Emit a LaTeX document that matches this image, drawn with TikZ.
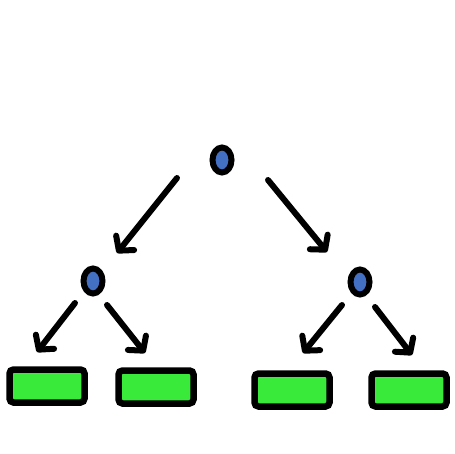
\documentclass[tikz,border=0pt]{standalone}
\usepackage{tikz}
\usetikzlibrary{arrows.meta,shapes.geometric}
\definecolor{dotblue}{RGB}{68,112,196}
\definecolor{leafgreen}{RGB}{58,234,58}
\tikzset{
  tdot/.style ={ellipse, draw=black, fill=dotblue, line width=0.06cm,
                minimum width=0.19cm, minimum height=0.25cm, inner sep=0pt},
  tleaf/.style={rectangle, rounded corners=0.04cm, draw=black, fill=leafgreen,
                line width=0.065cm, minimum width=0.75cm, minimum height=0.33cm,
                inner sep=0pt},
  tarc/.style ={-{Straight Barb[round, length=1.0mm, width=2.3mm]},
                line width=0.06cm, black, line cap=round},
}
\begin{document}
\begin{tikzpicture}
  \useasboundingbox (0,0) rectangle (4.54,-4.54);
  % inner nodes
  \node[tdot] (root) at (2.22,-1.60) {};
  \node[tdot] (m1)   at (0.93,-2.81) {};
  \node[tdot] (m2)   at (3.60,-2.82) {};
  % leaves
  \foreach \i/\x/\y in {1/0.47/-3.86, 2/1.56/-3.87, 3/2.92/-3.90, 4/4.09/-3.90} {
    \node[tleaf] (l\i) at (\x,\y) {};
  }
  % arrows: parent/start offset/child/end offset
  \foreach \p/\s/\c/\e in {root/{(-0.45,-0.18)}/m1/{(0.24,0.28)},
                           root/{(0.46,-0.20)}/m2/{(-0.33,0.30)},
                           m1/{(-0.18,-0.22)}/l1/{(-0.10,0.34)},
                           m1/{(0.14,-0.24)}/l2/{(-0.11,0.34)},
                           m2/{(-0.18,-0.23)}/l3/{(0.11,0.37)},
                           m2/{(0.15,-0.25)}/l4/{(0.03,0.35)}} {
    \draw[tarc] ([shift={\s}]\p.center) -- ([shift={\e}]\c.center);
  }
\end{tikzpicture}
\end{document}
